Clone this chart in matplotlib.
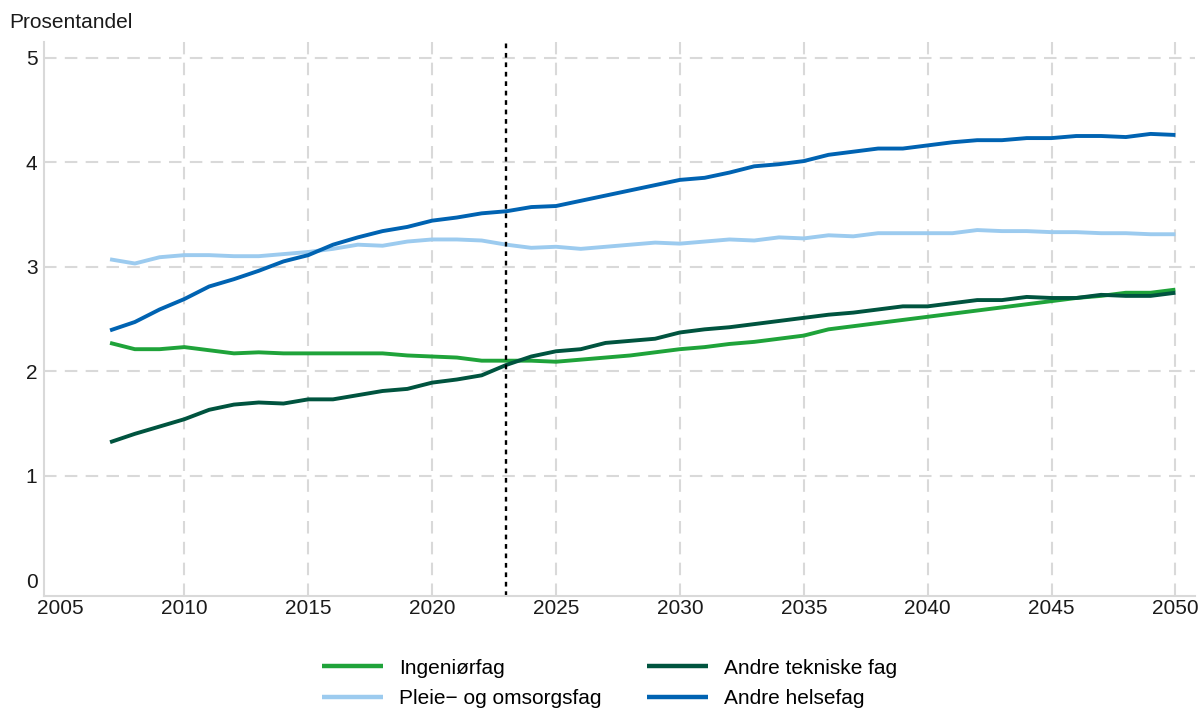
import numpy as np
import matplotlib
matplotlib.use("Agg")
import matplotlib.pyplot as plt

plt.rcParams['font.family'] = ['Liberation Sans', 'DejaVu Sans']

years = list(range(2007, 2051))

ingenior = [2.27, 2.21, 2.21, 2.23, 2.20, 2.17, 2.18, 2.17, 2.17, 2.17,
            2.17, 2.17, 2.15, 2.14, 2.13, 2.10, 2.10, 2.10, 2.09, 2.11,
            2.13, 2.15, 2.18, 2.21, 2.23, 2.26, 2.28, 2.31, 2.34, 2.40,
            2.43, 2.46, 2.49, 2.52, 2.55, 2.58, 2.61, 2.64, 2.67, 2.70,
            2.72, 2.75, 2.75, 2.78]

pleie = [3.07, 3.03, 3.09, 3.11, 3.11, 3.10, 3.10, 3.12, 3.14, 3.17,
         3.21, 3.20, 3.24, 3.26, 3.26, 3.25, 3.21, 3.18, 3.19, 3.17,
         3.19, 3.21, 3.23, 3.22, 3.24, 3.26, 3.25, 3.28, 3.27, 3.30,
         3.29, 3.32, 3.32, 3.32, 3.32, 3.35, 3.34, 3.34, 3.33, 3.33,
         3.32, 3.32, 3.31, 3.31]

andre_tekniske = [1.32, 1.40, 1.47, 1.54, 1.63, 1.68, 1.70, 1.69, 1.73, 1.73,
                  1.77, 1.81, 1.83, 1.89, 1.92, 1.96, 2.06, 2.14, 2.19, 2.21,
                  2.27, 2.29, 2.31, 2.37, 2.40, 2.42, 2.45, 2.48, 2.51, 2.54,
                  2.56, 2.59, 2.62, 2.62, 2.65, 2.68, 2.68, 2.71, 2.70, 2.70,
                  2.73, 2.72, 2.72, 2.75]

andre_helse = [2.39, 2.47, 2.59, 2.69, 2.81, 2.88, 2.96, 3.05, 3.11, 3.21,
               3.28, 3.34, 3.38, 3.44, 3.47, 3.51, 3.53, 3.57, 3.58, 3.63,
               3.68, 3.73, 3.78, 3.83, 3.85, 3.90, 3.96, 3.98, 4.01, 4.07,
               4.10, 4.13, 4.13, 4.16, 4.19, 4.21, 4.21, 4.23, 4.23, 4.25,
               4.25, 4.24, 4.27, 4.26]

labels = ["Ingeniørfag", "Pleie\u2212 og omsorgsfag", "Andre tekniske fag", "Andre helsefag"]
colors = ["#1fa33a", "#9ccbef", "#00543f", "#0063b2"]
series = [ingenior, pleie, andre_tekniske, andre_helse]

fig = plt.figure(figsize=(12, 7.11), dpi=100)
ax = fig.add_axes([0.037, 0.162, 0.959, 0.779])

for vals, lab, col in zip(series, labels, colors):
    ax.plot(years, vals, color=col, lw=2.8, label=lab, solid_capstyle='butt')

ax.axvline(2023, color='black', lw=1.7, linestyle=(0, (2, 2)))

ax.set_xlim(2004.35, 2050.8)
ax.set_ylim(-0.15, 5.15)
ax.set_xticks(range(2005, 2051, 5))
ax.set_yticks(range(0, 6))
ax.grid(True, color='#d9d9d9', lw=1.5, linestyle=(0, (6, 4)))
ax.set_axisbelow(True)
# first gridlines (2005 and 0) are not drawn in the original
ax.xaxis.get_gridlines()[0].set_visible(False)
ax.yaxis.get_gridlines()[0].set_visible(False)

for s in ['top', 'right']:
    ax.spines[s].set_visible(False)
for s in ['left', 'bottom']:
    ax.spines[s].set_color('#d9d9d9')
    ax.spines[s].set_linewidth(1.5)
ax.tick_params(length=0, labelsize=15, colors='#1a1a1a')
ax.tick_params(axis='y', pad=5)
ax.tick_params(axis='x', pad=2)

fig.text(0.008, 0.968, "Prosentandel", fontsize=15, ha='left', va='center', color='#1a1a1a')

leg = fig.legend(loc='center', bbox_to_anchor=(0.508, 0.039), ncol=2, frameon=False,
                 fontsize=15, handlelength=2.9, columnspacing=2.2, labelspacing=0.55,
                 handletextpad=0.77, borderpad=0)
for h in leg.get_lines():
    h.set_linewidth(3.2)

fig.savefig("out.png", dpi=100)
